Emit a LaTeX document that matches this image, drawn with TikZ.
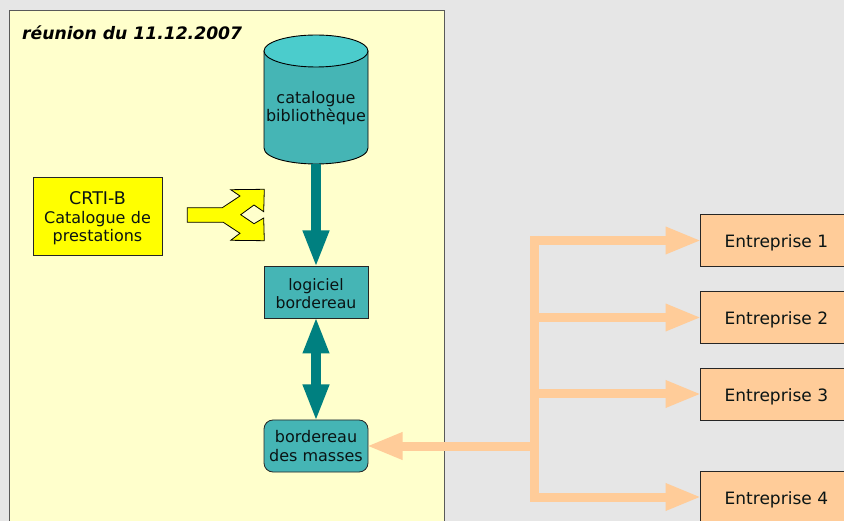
\documentclass[tikz,border=0pt]{standalone}
\usepackage{fontspec}
\setmainfont{DejaVu Sans}
\usetikzlibrary{arrows.meta}
\definecolor{bgc}{HTML}{E6E6E6}
\definecolor{panelc}{HTML}{FFFFCC}
\definecolor{tealc}{HTML}{008080}
\definecolor{boxc}{HTML}{45B5B5}
\definecolor{topc}{HTML}{4BCCCC}
\definecolor{orangec}{HTML}{FFCC99}
\definecolor{yelc}{HTML}{FFFF00}
\definecolor{txtc}{HTML}{0A1414}
\tikzset{
  boxbase/.style={draw=black!85,line width=0.8pt,inner sep=0pt,outer sep=0pt,align=center,text=txtc,font=\fontsize{16}{18.5}\selectfont},
  tealbox/.style={boxbase,fill=boxc,minimum width=104pt,minimum height=52pt},
  firm/.style={boxbase,fill=orangec,minimum width=148pt,minimum height=52pt,text width=148pt,font=\fontsize{17}{20}\selectfont},
  tealarrow/.style={draw=tealc,line width=10pt,shorten >=-1.5pt,-{Triangle[length=37pt,width=24pt]}},
  tealboth/.style={draw=tealc,line width=10pt,shorten >=-1.5pt,shorten <=-1.5pt,{Triangle[length=37pt,width=24pt]}-{Triangle[length=37pt,width=24pt]}},
  orangearrow/.style={draw=orangec,line width=9pt,shorten >=-1.5pt,-{Triangle[length=36pt,width=25pt]}},
}
\newcommand{\firmlift}{\rule{0pt}{18pt}\hspace*{5pt}}
\begin{document}
\begin{tikzpicture}[x=1pt,y=-1pt]
\useasboundingbox (0,0) rectangle (844,521);
\clip (0,0) rectangle (844,521);
\fill[bgc] (0,0) rectangle (844,521);
\draw[fill=panelc,draw=black!65,line width=1pt] (9.5,10.5) rectangle (444,540);
\node[anchor=west,inner sep=0pt,text=black,font=\fontsize{17.2}{20}\selectfont\bfseries\itshape] (title) at (22,32.5) {réunion du 11.12.2007};
% cylinder
\draw[fill=boxc,draw=black,line width=0.9pt] (264,51) -- (264,148) .. controls (264,158) and (290,164) .. (316,164) .. controls (342,164) and (368,158) .. (368,148) -- (368,51) -- cycle;
\draw[fill=topc,draw=black,line width=0.9pt] (316,51) ellipse [x radius=52,y radius=16];
\node[inner sep=0pt,outer sep=0pt,minimum width=104pt,minimum height=129pt,align=center,text=txtc,font=\fontsize{16}{18}\selectfont] (cat) at (316,99.5) {\strut\\[-1pt]catalogue\\bibliothèque};
% boxes
\node[boxbase,fill=yelc,minimum width=129pt,minimum height=78pt,text width=129pt] (crti) at (97.5,216) {\rule{0pt}{18pt}{\fontsize{17.5}{19}\selectfont CRTI-B}\\Catalogue de\\prestations};
\node[tealbox,font=\fontsize{15.7}{18}\selectfont] (log) at (316,292) {\rule{0pt}{15pt}logiciel\\bordereau};
\node[tealbox,rounded corners=9pt] (bm) at (316,446) {bordereau\\des masses};
\node[firm,anchor=west] (e1) at (700,240.5) {\firmlift Entreprise 1};
\node[firm,anchor=west] (e2) at (700,317.5) {\firmlift Entreprise 2};
\node[firm,anchor=west] (e3) at (700,394) {\firmlift Entreprise 3};
\node[firm,anchor=west] (e4) at (700,497) {\firmlift Entreprise 4};
% Y shape
\draw[fill=yelc,draw=black,line width=0.8pt,line join=miter] (187.3,207.7) -- (222.3,207.7) -- (240,196) -- (230.7,189.7) -- (264.3,189.3) -- (263.7,211.7) -- (254,205) -- (240.7,214.7) -- (254,223.7) -- (263.7,218) -- (264.3,240.7) -- (230.7,240.3) -- (240,233.3) -- (223.3,222.3) -- (187.3,222.3) -- cycle;
% connectors
\draw[tealarrow] (cat.south) -- (log.north);
\draw[tealboth] (log.south) -- (bm.north);
\coordinate (j1) at (534,240.5);
\coordinate (j2) at (534,317.5);
\coordinate (j3) at (534,394);
\coordinate (j4) at (534,497);
\coordinate (j5) at (534,446);
\draw[draw=orangec,line width=9pt,shorten <=-4.5pt,shorten >=-4.5pt] (j1) -- (j4);
\draw[orangearrow] (j1) -- (e1.west);
\draw[orangearrow] (j2) -- (e2.west);
\draw[orangearrow] (j3) -- (e3.west);
\draw[orangearrow] (j4) -- (e4.west);
\draw[orangearrow] (j5) -- (bm.east);
\end{tikzpicture}
\end{document}
